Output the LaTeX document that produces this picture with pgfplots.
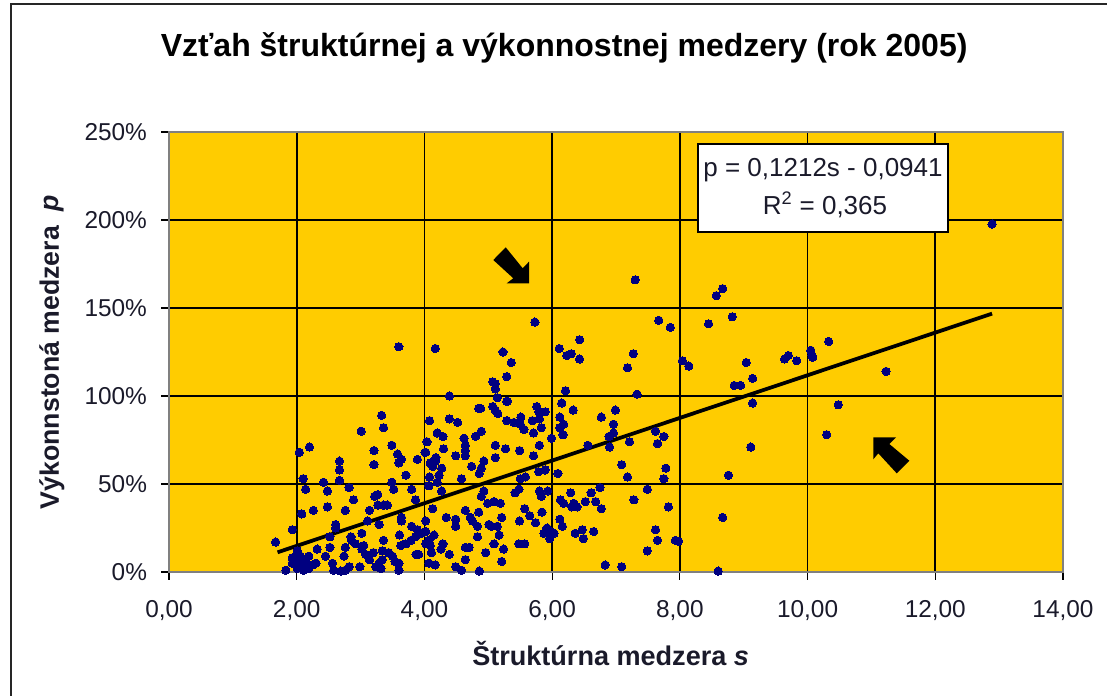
\documentclass[border=0pt]{standalone}
\usepackage{pgfplots}
\pgfplotsset{compat=1.18}
\usepackage{fontspec}
\setmainfont{Liberation Sans}
\definecolor{plotbg}{HTML}{FFCC00}
\definecolor{navy}{HTML}{000080}
\definecolor{txt}{HTML}{1A1A2A}
\begin{document}
\begin{tikzpicture}
\path[use as bounding box] (0,0) rectangle (830.25pt,522pt);
\begin{axis}[
  at={(126.75pt,93pt)}, anchor=south west,
  scale only axis, width=670.5pt, height=330pt,
  xmin=0, xmax=14, ymin=0, ymax=250,
  axis background/.style={fill=plotbg},
  axis line style={black!50,line width=0.8pt},
  xtick={0,2,4,6,8,10,12,14},
  xticklabels={{0,00},{2,00},{4,00},{6,00},{8,00},{10,00},{12,00},{14,00}},
  ytick={0,50,100,150,200,250},
  yticklabels={0\%,50\%,100\%,150\%,200\%,250\%},
  tick align=outside, tick pos=left,
  major tick length=6pt,
  tick style={black,line width=0.9pt},
  grid=major, grid style={black,line width=1.3pt},
  ticklabel style={font=\fontsize{18.3}{20}\selectfont,text=txt},
  xticklabel style={yshift=-12pt},
  yticklabel style={xshift=-7pt},
  title={Vzťah štruktúrnej a výkonnostnej medzery (rok 2005)},
  title style={at={(axis description cs:0.442,1.172)},anchor=center,font=\fontsize{24}{28}\selectfont\bfseries,text=black},
  xlabel={Štruktúrna medzera \textit{s}},
  xlabel style={at={(axis description cs:0.494,-0.186)},anchor=center,font=\fontsize{20.3}{24}\selectfont\bfseries,text=txt},
  ylabel={Výkonnstoná medzera~~\textit{p}},
  ylabel style={at={(axis description cs:-0.131,0.5)},anchor=center,font=\fontsize{20}{24}\selectfont\bfseries,text=txt},
  clip=false,
]
\addplot[only marks, mark=*, mark size=3.1pt, mark options={fill=navy,draw=navy,line width=0pt}, forget plot] table {
1.67 17
1.93 24
3.33 89
3.36 82
3.01 80
2.20 71
2.04 68
3.49 72
3.21 69
3.58 67
3.64 64
3.60 62
3.89 64
4.01 68
2.67 63
2.67 58
3.21 61
3.71 55
2.10 53
2.14 47
2.42 51
2.48 46
2.67 52
2.82 48
2.89 41
3.49 51
3.52 47
3.80 47
3.86 41
3.27 44
3.22 43
3.27 38
3.36 38
3.42 38
2.48 37
2.26 35
2.08 33
2.76 35
3.14 35
3.64 31
3.64 29
3.11 29
3.29 27
2.61 27
2.61 25
2.52 20
3.02 22
2.85 20
2.86 18
2.92 16
3.36 18
3.61 21
3.80 26
3.89 24
4.02 29
4.02 23
3.94 22
3.86 20
3.79 18
3.71 16
3.63 15
4.02 16
2.32 13
2.52 14
2.76 14
3.05 15
3.02 13
2.45 9
2.74 9
3.08 10
3.20 11
3.14 7
3.34 12
3.44 11
3.50 9
3.87 10
3.54 6
3.60 5
3.34 7
3.29 5
3.24 3
3.32 2
2.99 3
2.56 5
2.58 1
2.82 3
2.76 1
2.69 0.5
1.83 1
3.60 1
2.01 12
1.93 8
1.98 5
2.06 9
2.14 7
2.19 9
2.25 4
2.30 5
2.17 3
2.09 3
2.01 2
1.93 5
2.11 1
2.06 5
1.98 9
2.19 2
6.15 96
6.99 92
6.33 92
6.77 88
6.12 88
6.18 84
6.12 82
6.96 84
6.17 78
5.99 76
4.88 93
4.85 93
5.07 94
5.15 90
5.11 92
5.30 97
5.76 94
5.79 91
5.89 91
5.51 88
5.69 86
5.80 87
5.29 86
5.40 85
5.50 84
5.56 81
5.83 82
5.71 79
4.08 86
4.39 87
4.52 85
4.89 80
4.80 77
4.20 79
4.29 77
4.62 76
4.64 72
4.04 74
4.30 70
4.64 69
4.49 66
4.64 66
5.11 72
5.27 70
5.11 65
5.49 69
5.71 66
5.80 72
4.02 68
4.18 65
4.17 63
4.09 62
4.13 60
4.93 63
4.74 60
4.89 59
4.86 56
4.27 59
4.23 55
4.08 54
4.58 53
4.20 51
4.07 49
4.27 46
4.93 46
4.89 43
5.50 53
5.58 54
5.79 57
5.89 58
6.09 56
7.09 61
7.18 54
7.78 59
7.75 53
6.75 48
7.49 47
6.61 45
7.28 41
7.82 37
6.52 40
6.68 40
6.29 45
6.13 41
6.18 39
6.34 39
6.39 37
6.31 37
6.77 36
7.62 80
7.75 77
7.65 73
6.89 77
6.96 79
7.21 74
6.90 71
6.56 72
5.48 47
5.42 45
5.80 46
5.83 43
5.93 46
4.99 39
5.09 40
5.19 39
4.64 35
5.57 36
5.65 32
5.84 34
5.49 29
5.74 28
4.85 34
5.21 31
4.34 31
4.49 30
4.49 26
4.72 31
4.75 29
4.83 26
5.01 27
5.14 26
5.05 26
4.13 36
4.02 29
5.17 21
4.83 20
5.09 16
5.48 16
5.57 16
4.64 14
4.70 14
5.24 13
4.96 11
4.64 7
5.21 6
4.39 10
4.29 16
4.26 13
4.15 21
3.96 22
4.07 18
4.02 16
4.09 15
4.11 11
4.07 5
4.17 4
4.49 3
4.58 1
4.86 0.5
3.91 10
5.87 22
5.97 23
6.03 22
5.92 25
5.96 19
6.12 30
6.16 26
6.36 22
6.47 24
6.65 23
6.49 19
7.62 24
7.65 18
7.49 12
7.93 18
6.83 4
7.09 3
7.30 166
5.73 142
3.60 128
4.17 127
5.23 125
5.36 119
5.29 111
5.07 108
5.11 107
5.11 104
4.39 100
5.14 99
5.29 97
6.43 132
6.11 127
6.23 123
6.30 124
6.43 121
6.21 103
7.33 101
7.27 124
7.18 116
7.67 143
7.85 139
8.04 120
8.14 117
8.45 141
8.57 157
8.67 161
8.82 145
9.04 119
9.14 110
8.85 106
8.95 106
9.14 96
9.64 121
9.70 123
9.83 120
10.05 126
10.07 123
10.08 122
10.33 131
11.23 114
10.48 95
10.30 78
9.11 71
8.76 55
8.67 31
8.60 0.5
7.98 17.5
12.89 197.7
};
\addplot[black, line width=2.8pt, forget plot] coordinates {(1.7,11.2) (12.89,146.8)};
\end{axis}
\begin{scope}[x=0.75pt,y=-0.75pt,yshift=522pt]
\draw[line width=1.5pt,black!85] (11,696) -- (11,4) -- (1107,4);
\fill[black] (505.7,247.3) -- (493.3,260) -- (513.3,278.3) -- (506.7,283.3) -- (529,283.3) -- (529,261.7) -- (522.7,268.3) -- cycle;
\fill[black] (873.3,437.3) -- (896,437.3) -- (889.3,444) -- (909.3,460.7) -- (896.7,473.3) -- (878.3,453.3) -- (873.3,459.3) -- cycle;
\draw[black,line width=1.3pt,fill=white] (698,144) rectangle (948,232);
\node[anchor=center,font=\fontsize{19.5}{22}\selectfont,text=txt] at (823,170) {p = 0,1212s - 0,0941};
\node[anchor=center,font=\fontsize{19.5}{22}\selectfont,text=txt] at (825,205) {R\textsuperscript{2} = 0,365};
\end{scope}
\end{tikzpicture}
\end{document}
